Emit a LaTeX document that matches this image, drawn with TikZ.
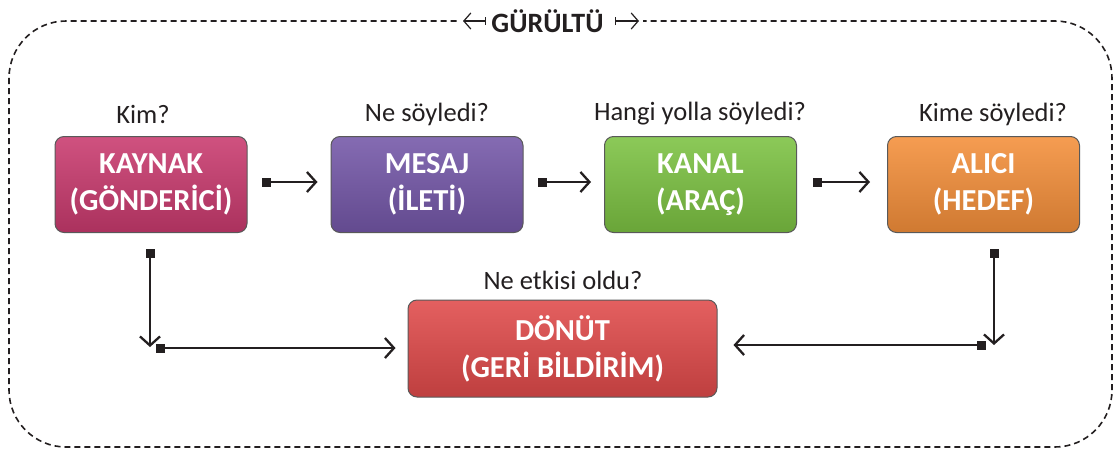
\documentclass[tikz,border=0pt]{standalone}
\usepackage{fontspec}
\setmainfont{Carlito}
\usetikzlibrary{arrows.meta}
\definecolor{ink}{HTML}{231F20}
\definecolor{cK}{HTML}{C93A6E}
\definecolor{cM}{HTML}{7457A8}
\definecolor{cN}{HTML}{7CC242}
\definecolor{cA}{HTML}{F48F3A}
\definecolor{cD}{HTML}{E04A4A}
\tikzset{
  box/.style={rounded corners=9pt, draw=gray!70!black, line width=1pt,
    minimum width=192pt, minimum height=96pt, text=white, align=center,
    font=\bfseries\fontsize{30.5}{37}\selectfont,
    top color=#1!88!white, middle color=#1, bottom color=#1!85!black},
  qlabel/.style={text=ink, font=\fontsize{26.5}{30}\selectfont, inner sep=0pt},
  conn/.style={draw=ink, line width=2.3pt,
    {Square[length=9pt,width=9pt]}-{Straight Barb[length=9pt,width=20pt,line width=2.3pt]}},
  frame/.style={draw=ink, line width=1.6pt, dash pattern=on 6pt off 4pt, rounded corners=57pt},
}
\begin{document}
\begin{tikzpicture}[x=1pt,y=-1pt]
\useasboundingbox (0,0) rectangle (1117,450);
\draw[frame] (9,21) rectangle (1112,447);
\node[fill=white, minimum width=184pt, minimum height=16pt, inner sep=0pt] (titlebg) at (551,21) {};
\node[text=ink, font=\bfseries\fontsize{28}{32}\selectfont, inner sep=0pt] (title) at (547.5,21) {GÜRÜLTÜ};
\coordinate (tl1) at (486,21); \coordinate (tl2) at (463,21);
\coordinate (tr1) at (615,21); \coordinate (tr2) at (639,21);
\draw[ink, line width=1.2pt, {Bar[width=8pt]}-{Straight Barb[length=7pt,width=16pt,line width=1.2pt]}] (tl1) -- (tl2);
\draw[ink, line width=1.2pt, {Bar[width=8pt]}-{Straight Barb[length=7pt,width=16pt,line width=1.2pt]}] (tr1) -- (tr2);

\node[box=cK] (kaynak) at (151,184.5) {KAYNAK\\(GÖNDERİCİ)};
\node[box=cM] (mesaj) at (427,184.5) {MESAJ\\(İLETİ)};
\node[box=cN] (kanal) at (700.5,184.5) {KANAL\\(ARAÇ)};
\node[box=cA] (alici) at (983.5,184.5) {ALICI\\(HEDEF)};
\node[box=cD, minimum width=309pt, minimum height=97pt] (donut) at (562.5,348.5) {DÖNÜT\\(GERİ BİLDİRİM)};

\node[qlabel] (q1) at (143,114) {Kim?};
\node[qlabel] (q2) at (427,114) {Ne söyledi?};
\node[qlabel] (q3) at (700,114) {Hangi yolla söyledi?};
\node[qlabel] (q4) at (993,114) {Kime söyledi?};
\node[qlabel] (q5) at (563,280) {Ne etkisi oldu?};

\draw[conn, shorten <=14pt, shorten >=13pt] (kaynak.east|-0,182) -- (mesaj.west|-0,182);
\draw[conn, shorten <=14pt, shorten >=13pt] (mesaj.east|-0,182) -- (kanal.west|-0,182);
\draw[conn, shorten <=16pt, shorten >=17pt] (kanal.east|-0,182) -- (alici.west|-0,182);

\coordinate (l1) at (150,249); \coordinate (l2) at (150,347);
\coordinate (l3) at (156,348);
\coordinate (r1) at (994,249); \coordinate (r2) at (994,345);
\coordinate (r3) at (986,345);
\draw[conn] (l1) -- (l2);
\draw[conn, shorten >=12pt] (l3) -- (donut.west|-l3);
\draw[conn] (r1) -- (r2);
\draw[conn, shorten >=16pt] (r3) -- (donut.east|-r3);
\end{tikzpicture}
\end{document}
